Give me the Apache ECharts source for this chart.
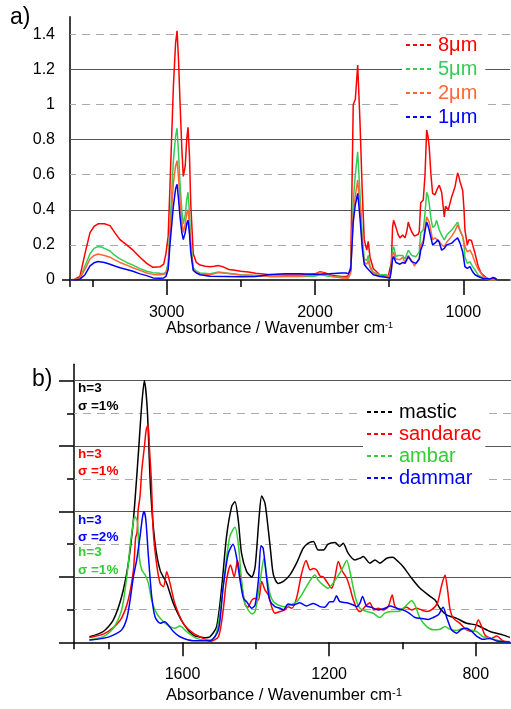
<!DOCTYPE html>
<html><head><meta charset="utf-8">
<script src="https://cdn.jsdelivr.net/npm/echarts@6/dist/echarts.min.js"></script>
<style>html,body{margin:0;padding:0;background:#fff}#c{width:511px;height:709px}</style>
</head><body><div id="c"></div>
<script>
// ---------- Panel a) : thickness series ----------
const wn8 = [3652,3620,3585,3551,3517,3490,3463,3420,3382,3350,3315,3270,3227,3180,3135,3092,3045,3020,3005,2990,2978,2955,2940,2930,2920,2910,2898,2888,2875,2865,2856,2846,2838,2821,2800,2775,2740,2708,2680,2650,2620,2580,2540,2500,2450,2400,2300,2200,2100,2000,1966,1930,1880,1820,1790,1775,1759,1742,1728,1712,1697,1681,1668,1651,1641,1629,1607,1562,1506,1494,1485,1477,1470,1454,1440,1427,1409,1393,1380,1371,1360,1348,1330,1319,1305,1297,1287,1270,1258,1247,1238,1230,1218,1207,1191,1175,1162,1146,1128,1120,1112,1101,1078,1056,1045,1038,1030,1022,1004,995,989,973,962,955,945,937,921,899,880,865,840,820,800,786,771];
const abs8 = [0,0.005,0.02,0.15,0.27,0.305,0.32,0.32,0.31,0.27,0.23,0.2,0.17,0.13,0.095,0.072,0.075,0.09,0.15,0.25,0.53,1.1,1.35,1.42,1.25,1.01,0.75,0.59,0.65,0.8,0.87,0.7,0.44,0.15,0.1,0.085,0.078,0.075,0.078,0.082,0.075,0.06,0.055,0.05,0.045,0.038,0.03,0.028,0.028,0.035,0.047,0.04,0.025,0.02,0.02,0.025,0.076,1.0,1.03,1.225,0.91,0.5,0.23,0.17,0.22,0.13,0.066,0.028,0.02,0.02,0.1,0.3,0.34,0.3,0.26,0.24,0.256,0.24,0.28,0.33,0.3,0.275,0.25,0.247,0.26,0.275,0.44,0.456,0.6,0.855,0.82,0.76,0.6,0.494,0.485,0.52,0.54,0.5,0.36,0.42,0.427,0.4,0.475,0.53,0.58,0.61,0.59,0.56,0.51,0.4,0.285,0.2,0.23,0.228,0.225,0.2,0.152,0.076,0.04,0.028,0.01,0.004,0.008,0.012,0];

const wn5 = [3652,3620,3585,3551,3517,3490,3463,3440,3420,3382,3350,3315,3270,3227,3180,3135,3092,3045,3020,3005,2990,2978,2955,2940,2930,2920,2910,2898,2888,2875,2865,2856,2846,2838,2821,2800,2775,2708,2650,2600,2500,2400,2300,2200,2100,2000,1966,1900,1820,1775,1759,1742,1728,1712,1697,1681,1668,1651,1641,1629,1607,1562,1520,1494,1485,1477,1470,1454,1440,1427,1409,1393,1380,1371,1348,1319,1297,1287,1270,1258,1247,1238,1230,1218,1207,1191,1180,1162,1146,1128,1112,1101,1078,1056,1038,1022,1004,995,989,973,955,937,921,899,865,820,771];
const abs5 = [0,0.003,0.01,0.08,0.15,0.18,0.19,0.188,0.18,0.165,0.14,0.12,0.1,0.085,0.065,0.05,0.042,0.038,0.037,0.045,0.1,0.3,0.68,0.82,0.865,0.72,0.55,0.4,0.32,0.37,0.46,0.5,0.38,0.22,0.07,0.05,0.04,0.035,0.045,0.04,0.03,0.025,0.02,0.02,0.02,0.022,0.03,0.02,0.015,0.012,0.05,0.45,0.6,0.73,0.5,0.25,0.12,0.11,0.14,0.08,0.045,0.03,0.03,0.02,0.08,0.17,0.19,0.133,0.14,0.133,0.14,0.12,0.15,0.17,0.14,0.133,0.16,0.27,0.285,0.38,0.5,0.48,0.437,0.35,0.3,0.31,0.34,0.285,0.256,0.228,0.256,0.256,0.285,0.31,0.33,0.285,0.247,0.2,0.13,0.095,0.105,0.076,0.057,0.028,0.01,0,0];

const wn2 = [3652,3620,3585,3551,3517,3490,3463,3420,3382,3350,3315,3270,3227,3180,3135,3092,3045,3005,2990,2978,2955,2940,2930,2920,2910,2898,2888,2875,2865,2856,2846,2838,2821,2800,2775,2708,2650,2600,2500,2400,2300,2100,2000,1966,1930,1880,1820,1775,1759,1742,1728,1712,1697,1681,1668,1651,1641,1629,1607,1562,1520,1494,1485,1477,1470,1454,1427,1409,1393,1371,1348,1330,1319,1297,1287,1270,1258,1247,1238,1230,1207,1191,1180,1162,1146,1128,1112,1101,1078,1056,1038,1022,1004,989,973,955,937,921,899,865,820,771];
const abs2 = [0,0.002,0.01,0.06,0.12,0.14,0.148,0.14,0.13,0.115,0.1,0.085,0.07,0.055,0.04,0.032,0.03,0.035,0.08,0.25,0.55,0.65,0.68,0.58,0.45,0.33,0.27,0.32,0.38,0.4,0.3,0.18,0.06,0.045,0.035,0.03,0.042,0.038,0.028,0.025,0.02,0.022,0.03,0.045,0.035,0.02,0.012,0.01,0.04,0.38,0.48,0.57,0.42,0.2,0.1,0.09,0.11,0.07,0.04,0.022,0.02,0.015,0.06,0.14,0.16,0.12,0.115,0.13,0.1,0.14,0.11,0.08,0.08,0.12,0.2,0.22,0.3,0.36,0.35,0.33,0.23,0.24,0.25,0.22,0.2,0.19,0.215,0.22,0.25,0.28,0.315,0.28,0.25,0.19,0.16,0.17,0.14,0.1,0.06,0.02,0,0];

const wn1 = [3652,3620,3585,3551,3517,3490,3463,3420,3382,3350,3315,3270,3227,3180,3135,3092,3045,3020,3005,2990,2978,2955,2940,2930,2920,2910,2898,2888,2875,2865,2856,2846,2838,2821,2800,2775,2708,2600,2500,2400,2300,2200,2100,2000,1900,1820,1790,1775,1759,1742,1728,1712,1697,1681,1668,1651,1641,1629,1607,1562,1520,1494,1485,1477,1470,1454,1427,1409,1393,1371,1348,1319,1297,1287,1270,1258,1247,1238,1230,1207,1191,1172,1162,1146,1128,1112,1078,1056,1038,1022,1004,989,973,955,937,921,899,865,820,800,790,771];
const abs1 = [0,0,0.005,0.03,0.08,0.098,0.105,0.1,0.09,0.08,0.07,0.06,0.05,0.035,0.025,0.012,0.01,0.012,0.02,0.06,0.2,0.42,0.52,0.545,0.46,0.36,0.27,0.23,0.27,0.32,0.34,0.26,0.16,0.055,0.04,0.03,0.022,0.02,0.018,0.02,0.032,0.035,0.035,0.032,0.035,0.04,0.04,0.035,0.06,0.33,0.43,0.494,0.36,0.18,0.09,0.07,0.08,0.05,0.03,0.02,0.015,0.01,0.06,0.12,0.133,0.1,0.09,0.1,0.095,0.133,0.105,0.095,0.12,0.17,0.21,0.28,0.33,0.31,0.285,0.2,0.21,0.228,0.215,0.17,0.18,0.2,0.21,0.228,0.24,0.21,0.16,0.076,0.066,0.076,0.047,0.03,0.02,0.008,0.005,0.015,0.018,0];

const namesA = ['8μm','5μm','2μm','1μm'];
const colorsA = ['#ff0000','#33cc55','#ff6633','#0000ff'];
const ticksAMajor = [1000,2000,3000];
const ticksAMinor = [1500,2500,3500,3652];
const labelsAY = [0,0.2,0.4,0.6,0.8,1,1.2,1.4];
const gridSolidA = [0.4,0.8,1.2];
const gridDashA = [0.2,0.6,1.0,1.4];

// ---------- Panel b) : resin series ----------
const wnMastic = [1854,1816,1789,1766,1748,1734,1721,1711,1704,1696,1687,1675,1661,1643,1625,1598,1571,1552,1539,1525,1507,1493,1480,1466,1457,1448,1439,1425,1411,1402,1391,1384,1375,1366,1360,1352,1339,1325,1307,1289,1271,1257,1243,1230,1216,1203,1184,1171,1162,1148,1130,1116,1107,1089,1075,1062,1043,1027,1012,998,975,952,930,911,898,880,852,825,798,761,725,707];
const absMastic = [0.17,0.33,0.68,1.4,2.4,3.74,5.68,7.3,8.0,7.1,4.66,3.03,2.2,1.8,1.19,0.58,0.22,0.16,0.14,0.17,0.48,1.7,3.23,4.15,4.3,3.74,2.72,2.16,2.0,2.31,3.84,4.47,4.25,3.44,2.82,2.06,1.8,1.86,2.06,2.42,2.87,3.03,3.08,2.82,2.82,3.0,3.05,2.93,3.03,2.72,2.52,2.57,2.62,2.42,2.52,2.42,2.57,2.6,2.47,2.31,1.96,1.65,1.45,1.29,1.04,0.84,0.73,0.58,0.53,0.33,0.22,0.15];

const wnSandarac = [1854,1816,1789,1766,1748,1734,1728,1724,1721,1716,1711,1704,1699,1694,1690,1685,1680,1671,1661,1652,1643,1634,1621,1598,1571,1543,1525,1502,1489,1480,1469,1459,1450,1441,1430,1422,1411,1402,1393,1384,1375,1366,1357,1348,1334,1321,1312,1302,1289,1275,1263,1252,1243,1234,1225,1216,1207,1193,1184,1175,1166,1152,1143,1134,1125,1116,1102,1089,1078,1066,1053,1039,1028,1021,1007,989,975,962,948,934,921,905,893,884,877,870,861,843,825,807,793,784,775,757,743,725,707];
const absSandarac = [0.15,0.25,0.45,0.75,1.3,2.2,3.2,3.35,4.05,4.45,5.27,5.98,6.5,6.65,5.9,4.96,3.43,2.42,1.8,1.7,2.16,1.8,1.19,0.58,0.28,0.12,0.03,0.17,0.99,1.9,2.36,2.0,2.5,1.9,1.19,1.07,1.29,1.35,1.29,1.86,1.6,1.45,1.09,0.89,0.94,0.99,1.09,1.04,1.35,2.11,2.5,2.21,2.26,2.21,2.03,2.0,1.86,1.65,2.0,2.47,2.21,1.96,1.65,1.29,1.04,0.94,1.09,1.21,0.99,1.04,0.99,1.09,1.45,1.11,0.99,1.07,0.99,1.04,0.99,0.94,0.99,1.19,1.75,2.06,1.6,0.99,0.73,0.58,0.38,0.33,0.68,0.48,0.22,0.12,0.19,0.04,0.02];

const wnAmbar = [1854,1816,1789,1766,1752,1743,1734,1730,1723,1718,1711,1702,1693,1684,1671,1652,1634,1621,1607,1589,1562,1534,1525,1510,1498,1484,1471,1457,1448,1439,1430,1421,1411,1402,1393,1384,1378,1371,1362,1352,1339,1321,1307,1289,1275,1262,1248,1239,1230,1216,1203,1193,1180,1166,1152,1143,1134,1125,1116,1098,1080,1062,1048,1030,1012,993,975,966,952,934,916,898,884,870,852,834,816,798,780,761,743,725,707];
const absAmbar = [0.07,0.17,0.43,0.99,2.0,2.93,3.69,3.84,3.69,2.62,2.21,2.06,1.8,1.29,0.89,0.63,0.48,0.43,0.5,0.33,0.12,0.07,0.07,0.2,0.89,2.21,3.23,3.52,3.03,1.9,1.19,0.99,0.87,0.94,1.5,2.21,2.57,2.11,1.5,1.24,1.14,1.09,1.14,1.24,1.45,1.7,1.96,2.06,1.9,1.75,1.65,1.75,1.96,2.21,2.5,2.15,1.65,1.24,1.04,0.94,0.89,0.76,0.89,0.94,0.94,1.09,1.27,1.14,0.73,0.48,0.38,0.4,0.48,0.4,0.36,0.43,0.38,0.33,0.17,0.12,0.07,0.02,0];

const wnDammar = [1854,1816,1789,1766,1752,1743,1734,1725,1716,1709,1705,1700,1693,1684,1675,1661,1648,1639,1625,1607,1571,1525,1502,1489,1475,1462,1453,1443,1434,1425,1411,1402,1393,1386,1380,1371,1362,1348,1334,1325,1312,1298,1280,1262,1243,1225,1212,1198,1189,1180,1171,1152,1134,1125,1116,1109,1098,1084,1066,1048,1034,1016,998,984,966,948,930,916,902,889,880,866,852,839,825,811,798,780,761,743,725,707];
const absDammar = [0.07,0.12,0.22,0.38,0.73,1.29,2.0,2.52,3.23,3.84,4.0,3.74,2.62,1.4,0.78,0.58,0.63,0.53,0.33,0.17,0.05,0.05,0.38,1.7,2.72,3.0,2.62,1.9,1.35,1.24,1.04,1.14,1.9,2.95,2.87,2.0,1.29,1.09,1.04,0.99,1.17,1.14,1.21,1.11,1.19,1.09,1.07,1.24,1.24,1.42,1.24,1.21,1.14,1.09,1.2,1.4,1.11,1.07,0.99,1.04,1.11,1.04,0.99,0.91,0.76,0.73,0.7,0.76,0.84,1.07,0.78,0.38,0.28,0.4,0.43,0.33,0.19,0.09,0.12,0.04,0.02,0];

const namesB = ['mastic','sandarac','ambar','dammar'];
const colorsB = ['#000000','#ff0000','#33cc33','#0000ff'];
const ticksBMajor = [800,1200,1600];
const ticksBMinor = [1000,1400,1800,1896];
const ticksBYMajor = [0,2,4,6,8];
const ticksBYMinor = [1,3,5,7];
const gridSolidB = [2,4,6,8];
const gridDashB = [1,3,5,7];

// annotation labels of panel b
const annotTexts = [['h=3','σ =1%'],['h=3','σ =1%'],['h=3','σ =2%'],['h=3','σ =1%']];
const annotColors = ['#000000','#ff0000','#0000ff','#33cc33'];

const FONT = 'Liberation Sans, Arial, Helvetica, sans-serif';
const pairs = (w, a) => w.map((x, i) => [x, a[i]]);
const plain = v => String(v);
const DASH_ICON = 'path://M0,0H4V2H0Z M7,0H11V2H7Z M14,0H18V2H14Z M21,0H25V2H21Z';

function gridMarks(solid, dashed) {
  return {
    silent: true, symbol: 'none', z: 1, label: {show: false},
    data: solid.map(v => ({yAxis: v, lineStyle: {color: '#555', width: 1, type: 'solid'}}))
      .concat(dashed.map(v => ({yAxis: v, lineStyle: {color: '#aaa', width: 1, type: [8, 6]}})))
  };
}

const seriesA = [[wn8,abs8],[wn5,abs5],[wn2,abs2],[wn1,abs1]].map((d, i) => ({
  name: namesA[i], type: 'line', xAxisIndex: 0, yAxisIndex: 0, symbol: 'none', z: 2,
  lineStyle: {color: colorsA[i], width: 1.5}, itemStyle: {color: colorsA[i]},
  data: pairs(d[0], d[1]),
  markLine: i === 0 ? gridMarks(gridSolidA, gridDashA) : undefined
}));
const seriesB = [[wnMastic,absMastic],[wnSandarac,absSandarac],[wnAmbar,absAmbar],[wnDammar,absDammar]].map((d, i) => ({
  name: namesB[i], type: 'line', xAxisIndex: 3, yAxisIndex: 1, symbol: 'none', z: 2, smooth: 0.25,
  lineStyle: {color: colorsB[i], width: 1.5}, itemStyle: {color: colorsB[i]},
  data: pairs(d[0], d[1]),
  markLine: i === 0 ? gridMarks(gridSolidB, gridDashB) : undefined
}));

const axLine = {show: true, onZero: false, lineStyle: {color: '#000', width: 1.5}};
const noLine = {show: false, onZero: false};
const tickStyle = {color: '#000', width: 1.5};
const tick = (vals, len) => ({show: true, inside: false, customValues: vals, length: len, lineStyle: tickStyle});
const noTick = {show: false};

function tickAxis(grid, min, max, vals, len) {
  return {gridIndex: grid, type: 'value', min: min, max: max, inverse: true, position: 'bottom',
    axisLine: noLine, splitLine: {show: false}, axisTick: tick(vals, len), axisLabel: {show: false}};
}

const graphics = [
  {type: 'text', left: 10, top: 6, style: {text: 'a)', fontSize: 23, fontFamily: FONT, fill: '#000'}},
  {type: 'text', left: 32, top: 368, style: {text: 'b)', fontSize: 23, fontFamily: FONT, fill: '#000'}},
  {type: 'text', left: 166, top: 321, style: {text: 'Absorbance / Wavenumber cm{sup|-1}', fontSize: 16, fontFamily: FONT, fill: '#000', rich: {sup: {fontSize: 9, verticalAlign: 'top', fontFamily: FONT}}}},
  {type: 'text', left: 166, top: 687, style: {text: 'Absorbance / Wavenumber cm{sup|-1}', fontSize: 16.5, fontFamily: FONT, fill: '#000', rich: {sup: {fontSize: 11.5, verticalAlign: 'top', fontFamily: FONT}}}}
];
const annotY = [[388,406],[454,471.7],[520,537.7],[552.7,570]];
annotTexts.forEach((t, i) => {
  t.forEach((s, j) => graphics.push({type: 'text', x: 78, y: annotY[i][j],
    style: {text: s, fontSize: 13.5, fontWeight: 'bold', fontFamily: FONT, fill: annotColors[i], verticalAlign: 'middle'}}));
});

const chart = echarts.init(document.getElementById('c'), null, {renderer: 'canvas'});
chart.setOption({
  animation: false,
  backgroundColor: '#fff',
  textStyle: {fontFamily: FONT},
  grid: [
    {left: 70, right: 1, top: 16.75, height: 263.25},
    {left: 74, right: 0, top: 364.3, height: 278}
  ],
  xAxis: [
    {gridIndex: 0, type: 'value', min: 685, max: 3652, inverse: true, position: 'bottom',
      axisLine: axLine, splitLine: {show: false}, axisTick: noTick,
      axisLabel: {customValues: ticksAMajor, formatter: plain, fontSize: 16, color: '#000', margin: 25, fontFamily: FONT}},
    tickAxis(0, 685, 3652, ticksAMajor, 15),
    tickAxis(0, 685, 3652, ticksAMinor, 7),
    {gridIndex: 1, type: 'value', min: 704, max: 1896, inverse: true, position: 'bottom',
      axisLine: axLine, splitLine: {show: false}, axisTick: noTick,
      axisLabel: {customValues: ticksBMajor, formatter: plain, fontSize: 16, color: '#000', margin: 24, fontFamily: FONT}},
    tickAxis(1, 704, 1896, ticksBMajor, 14),
    tickAxis(1, 704, 1896, ticksBMinor, 7)
  ],
  yAxis: [
    {gridIndex: 0, type: 'value', min: 0, max: 1.5, position: 'left',
      axisLine: axLine, splitLine: {show: false}, axisTick: tick([0], 8),
      axisLabel: {customValues: labelsAY, formatter: plain, fontSize: 16, color: '#000', margin: 15, fontFamily: FONT}},
    {gridIndex: 1, type: 'value', min: 0, max: 8.5, position: 'left',
      axisLine: axLine, splitLine: {show: false}, axisTick: tick(ticksBYMajor, 15),
      axisLabel: {show: false}},
    {gridIndex: 1, type: 'value', min: 0, max: 8.5, position: 'left',
      axisLine: noLine, splitLine: {show: false}, axisTick: tick(ticksBYMinor, 7),
      axisLabel: {show: false}}
  ],
  legend: [
    {orient: 'vertical', left: 402, top: 35, padding: [0, 8, 2, 4], backgroundColor: '#fff',
      itemWidth: 25, itemHeight: 2, itemGap: 4, selectedMode: false, icon: DASH_ICON,
      textStyle: {fontSize: 20, lineHeight: 20, fontFamily: FONT, padding: [0, 0, 0, 2]},
      data: namesA.map((n, i) => ({name: n, icon: DASH_ICON, textStyle: {color: colorsA[i]}}))},
    {orient: 'vertical', left: 363, top: 400, padding: [2, 4, 2, 4], backgroundColor: '#fff',
      itemWidth: 25, itemHeight: 2, itemGap: 2, selectedMode: false, icon: DASH_ICON,
      textStyle: {fontSize: 20, lineHeight: 20, fontFamily: FONT, padding: [0, 0, 0, 2]},
      data: namesB.map((n, i) => ({name: n, icon: DASH_ICON, textStyle: {color: colorsB[i]}}))}
  ],
  graphic: graphics,
  series: seriesA.concat(seriesB)
});
</script>
</body></html>
